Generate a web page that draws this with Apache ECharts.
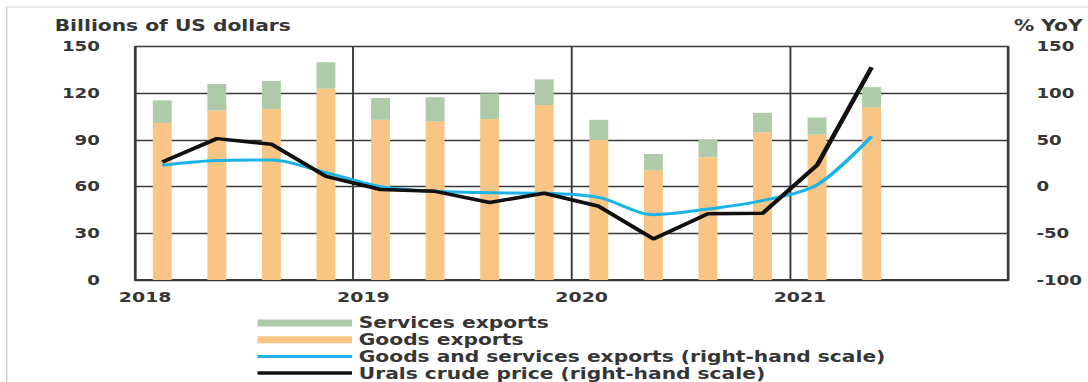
<!DOCTYPE html>
<html>
<head>
<meta charset="utf-8">
<script src="https://cdn.jsdelivr.net/npm/echarts@6/dist/echarts.min.js"></script>
<style>
  html, body { margin: 0; padding: 0; background: #fff; overflow: hidden; }
  /* The house typeface is a wide rounded sans; a horizontal stretch of the
     drawing surface gives DejaVu Sans the same broad proportions. */
  #chart { width: 806px; height: 382px; transform: scaleX(1.35); transform-origin: 0 0; }
</style>
</head>
<body>
<div id="chart"></div>
<script>
// Quarterly categories, Q1 2018 .. Q4 2021
const quarters = [
  '2018 Q1', '2018 Q2', '2018 Q3', '2018 Q4',
  '2019 Q1', '2019 Q2', '2019 Q3', '2019 Q4',
  '2020 Q1', '2020 Q2', '2020 Q3', '2020 Q4',
  '2021 Q1', '2021 Q2', '2021 Q3', '2021 Q4'
];
// Year labels on the axis boundaries
const years = ['2018', '2019', '2020', '2021', ''];

// Billions of US dollars
const goodsExports = [101, 109, 110, 123, 103, 102, 103.5, 112.5, 90, 70.5, 79, 95, 93.5, 111];
const servicesExports = [14.5, 17, 18, 17, 14, 15.5, 16.5, 16.5, 13, 10.5, 11, 12.5, 11, 13];

// % YoY (right-hand scale)
const totalExportsYoY = [23, 28, 28.5, 15, 0, -5, -6.5, -7, -11.5, -30, -24, -15, 2, 54];
const uralsPriceYoY = [26.5, 51.5, 45.5, 11, -3, -5, -17, -7, -21, -56, -29, -28.5, 23, 128];

const FONT = 'DejaVu Sans';
const TEXT = '#363636';
const GRID = '#3a3a3a';
const BLUE = '#1cb3e6';
const BLACK = '#111111';

const chart = echarts.init(document.getElementById('chart'), null, { renderer: 'svg' });

chart.setOption({
  animation: false,
  backgroundColor: '#fff',
  textStyle: { fontFamily: FONT },
  graphic: [
    {
      type: 'rect',
      silent: true,
      shape: { x: 5, y: 7, width: 1200, height: 600 },
      style: { fill: 'none', stroke: '#cfcfcf', lineWidth: 1 }
    },
    {
      type: 'text',
      left: 40.5, top: 18,
      style: { text: 'Billions of US dollars', fontFamily: FONT, fontSize: 15, fontWeight: 'bold', fill: TEXT }
    },
    {
      type: 'text',
      right: 4, top: 18,
      style: { text: '% YoY', fontFamily: FONT, fontSize: 15, fontWeight: 'bold', fill: TEXT }
    }
  ],
  grid: { left: 100, right: 59.3, top: 46.7, bottom: 102, containLabel: false },
  legend: {
    orient: 'vertical',
    left: 189,
    top: 315.5,
    itemWidth: 70,
    itemHeight: 7,
    itemGap: 1.7,
    padding: 0,
    data: [
      { name: 'Services exports', icon: 'rect' },
      { name: 'Goods exports', icon: 'rect' },
      { name: 'Goods and services exports (right-hand scale)', itemStyle: { opacity: 0 }, lineStyle: { width: 3 } },
      { name: 'Urals crude price (right-hand scale)', itemStyle: { opacity: 0 }, lineStyle: { width: 3.5 } }
    ],
    textStyle: { fontFamily: FONT, fontSize: 15, fontWeight: 'bold', color: TEXT, lineHeight: 15, padding: [0, 0, 0, 0] }
  },
  xAxis: [
    {
      type: 'category',
      data: quarters,
      boundaryGap: true,
      axisLine: { show: false },
      axisTick: { show: false },
      axisLabel: { show: false },
      splitLine: { show: false }
    },
    {
      type: 'value',
      min: 0,
      max: quarters.length,
      interval: 4,
      position: 'bottom',
      axisLine: { show: true, onZero: false, lineStyle: { color: GRID, width: 2 } },
      axisTick: { show: false },
      splitLine: { show: true, lineStyle: { color: GRID, width: 1.4 } },
      axisLabel: {
        show: true,
        margin: 10,
        showMinLabel: true,
        showMaxLabel: false,
        padding: [0, 0, 0, 15],
        fontFamily: FONT,
        fontSize: 14,
        fontWeight: 'bold',
        color: TEXT,
        formatter: v => years[v / 4]
      }
    }
  ],
  yAxis: [
    {
      type: 'value',
      min: 0,
      max: 150,
      interval: 30,
      position: 'left',
      axisLine: { show: true, lineStyle: { color: GRID, width: 1.6 } },
      axisTick: { show: false },
      axisLabel: { margin: 26, fontFamily: FONT, fontSize: 13.5, fontWeight: 'bold', color: TEXT },
      splitLine: { show: true, lineStyle: { color: GRID, width: 1.3 } }
    },
    {
      type: 'value',
      min: -100,
      max: 150,
      interval: 50,
      position: 'right',
      axisLine: { show: true, lineStyle: { color: GRID, width: 1.6 } },
      axisTick: { show: false },
      axisLabel: { margin: 21, fontFamily: FONT, fontSize: 13.5, fontWeight: 'bold', color: TEXT },
      splitLine: { show: false }
    }
  ],
  series: [
    {
      name: 'Goods exports',
      type: 'bar',
      stack: 'exports',
      xAxisIndex: 0,
      yAxisIndex: 0,
      barWidth: 14,
      itemStyle: { color: '#f9c584' },
      data: goodsExports
    },
    {
      name: 'Services exports',
      type: 'bar',
      stack: 'exports',
      xAxisIndex: 0,
      yAxisIndex: 0,
      barWidth: 14,
      itemStyle: { color: '#aecaa9' },
      data: servicesExports
    },
    {
      name: 'Goods and services exports (right-hand scale)',
      type: 'line',
      xAxisIndex: 0,
      yAxisIndex: 1,
      symbol: 'none',
      smooth: 0.3,
      lineStyle: { color: BLUE, width: 3 },
      itemStyle: { color: BLUE },
      z: 3,
      data: totalExportsYoY
    },
    {
      name: 'Urals crude price (right-hand scale)',
      type: 'line',
      xAxisIndex: 0,
      yAxisIndex: 1,
      symbol: 'none',
      lineStyle: { color: BLACK, width: 3.5 },
      itemStyle: { color: BLACK },
      z: 4,
      data: uralsPriceYoY
    }
  ]
});
</script>
</body>
</html>
